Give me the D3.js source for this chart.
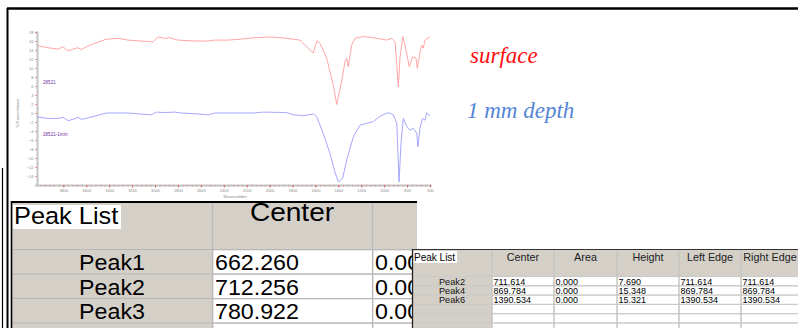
<!DOCTYPE html>
<html><head><meta charset="utf-8">
<script src="https://cdn.jsdelivr.net/npm/d3@7"></script>
<style>
html,body{margin:0;padding:0;background:#fff;}
svg{display:block;}
</style></head>
<body>
<svg id="c" width="798" height="328"></svg>
<script>
// ---------- spectrum data ----------
const wnSurface = [4030,4021,3934,3847,3803,3759,3716,3672,3643,3600,3526,3425,3323,3236,3018,2974,2915,2872,2799,2653,2538,2479,2363,2258,2145,1996,1851,1735,1648,1619,1589,1560,1502,1444,1414,1371,1342,1327,1313,1283,1254,1182,1065,978,934,905,876,862,838,818,781,751,722,711,688,673,659,644,615,600];
const trSurface = [15.1,14.96,14.5,14.2,14.7,13.8,14.2,14.5,14.1,14.7,15.5,16.4,16.6,16.2,15.8,16.9,16.6,16.7,16.2,16.0,16.0,16.2,16.2,16.4,16.7,16.9,16.6,16.2,14.0,13.3,16.0,15.5,12.2,6.2,1.9,7.0,11.4,12.2,10.3,15.1,16.6,17.0,16.6,16.2,16.6,15.8,5.8,12.2,17.0,15.1,10.3,12.5,12.2,9.9,13.3,15.1,14.4,16.2,16.7,16.9];
const wnDepth = [4030,3934,3847,3803,3759,3716,3672,3643,3600,3526,3425,3236,3032,2988,2915,2828,2770,2625,2538,2479,2363,2142,2055,1851,1793,1705,1618,1589,1531,1473,1430,1400,1362,1327,1269,1211,1152,1095,1036,964,920,890,870,853,833,803,774,745,716,705,688,664,644,629,600];
const trDepth = [-0.9,-1.2,-1.2,-0.96,-1.7,-1.4,-0.96,-1.4,-1.2,-0.7,0,0,-0.4,0.2,0.1,0.2,0,-0.2,-0.4,0,0,0,0.2,0.1,-0.4,-0.6,-0.2,-0.8,-4.6,-9.0,-13.1,-15.3,-14.5,-10.4,-5.3,-2.7,-2.3,-1.9,-0.7,0.07,-0.4,-2.3,-15.3,-6.7,-1.2,-3.0,-3.8,-3.4,-4.5,-7.5,-3.4,-1.2,-1.6,0,-0.6];
const xTickValues = [3800,3600,3400,3200,3000,2800,2600,2400,2200,2000,1800,1600,1400,1200,1000,800,600];
const yTickValues = [18,16,14,12,10,8,6,4,2,0,-2,-4,-6,-8,-10,-12,-14];
const seriesNames = ["28521","28521-1mm"];
const legendTexts = ["surface","1 mm depth"];

// ---------- table data ----------
const bigHeaders = ["Peak List","Center"];
const bigPeaks = ["Peak1","Peak2","Peak3"];
const bigCenters = ["662.260","712.256","780.922"];
const bigAreas = ["0.000","0.000","0.000"];

const smallHeaders = ["Peak List","Center","Area","Height","Left Edge","Right Edge"];
const smallPeaks = ["Peak2","Peak4","Peak6"];
const smallCenters = ["711.614","869.784","1390.534"];
const smallAreas = ["0.000","0.000","0.000"];
const smallHeights = ["7.690","15.348","15.321"];
const smallLeft = ["711.614","869.784","1390.534"];
const smallRight = ["711.614","869.784","1390.534"];

const svg = d3.select("#c");
const SANS = "'Liberation Sans', Arial, sans-serif";

const defs = svg.append("defs");
defs.append("clipPath").attr("id","bigclip").append("rect").attr("x",0).attr("y",190).attr("width",417).attr("height",140);

// ---------- outer frame ----------
svg.append("line").attr("x1",7).attr("x2",798).attr("y1",8.5).attr("y2",8.5).attr("stroke","#000").attr("stroke-width",2.5);
svg.append("line").attr("x1",7.5).attr("x2",7.5).attr("y1",8).attr("y2",328).attr("stroke","#000").attr("stroke-width",2);
svg.append("line").attr("x1",2.5).attr("x2",2.5).attr("y1",168).attr("y2",328).attr("stroke","#000").attr("stroke-width",1.2);

// ---------- spectrum ----------
const x = d3.scaleLinear().domain([4030,600]).range([37,430]);
const y = d3.scaleLinear().domain([-16,18]).range([185,32]);

const gAxes = svg.append("g");
const ya = gAxes.append("g").attr("transform","translate(37,0)")
  .call(d3.axisLeft(y).tickValues(yTickValues).tickSize(2).tickPadding(1.5).tickFormat(d3.format("d")));
ya.select(".domain").attr("stroke","#c4c4c4").attr("stroke-width",2);
ya.selectAll(".tick line").attr("stroke","#e06060").attr("stroke-width",0.6);
ya.selectAll(".tick text").attr("fill","#8a8a8a").style("font-size","4px").style("font-family",SANS);

const minor = d3.range(4000,599,-40);
const xm = gAxes.append("g").attr("transform","translate(0,185)")
  .call(d3.axisBottom(x).tickValues(minor).tickSize(1.6).tickFormat(""));
xm.select(".domain").attr("stroke","#c4c4c4").attr("stroke-width",2);
xm.selectAll(".tick line").attr("stroke","#e07070").attr("stroke-width",0.6);

const xa = gAxes.append("g").attr("transform","translate(0,185)")
  .call(d3.axisBottom(x).tickValues(xTickValues).tickSize(2.6).tickPadding(1.5).tickFormat(d3.format("d")));
xa.select(".domain").remove();
xa.selectAll(".tick line").attr("stroke","#d04040").attr("stroke-width",0.7);
xa.selectAll(".tick text").attr("fill","#8a8a8a").style("font-size","4px").style("font-family",SANS);

svg.append("text").attr("x",235).attr("y",198).attr("text-anchor","middle")
  .attr("fill","#8a8a8a").style("font-size","4px").style("font-family",SANS).text("Wavenumber");
svg.append("text").attr("transform","translate(19,113) rotate(-90)").attr("text-anchor","middle")
  .attr("fill","#8a8a8a").style("font-size","4px").style("font-family",SANS).text("%Transmittance");

const line = d3.line().x(d=>x(d[0])).y(d=>y(d[1]));
svg.append("path").datum(d3.zip(wnSurface,trSurface)).attr("d",line)
  .attr("fill","none").attr("stroke","#ff9c9c").attr("stroke-width",0.9);
svg.append("path").datum(d3.zip(wnDepth,trDepth)).attr("d",line)
  .attr("fill","none").attr("stroke","#9c9cff").attr("stroke-width",0.9);

svg.append("text").attr("x",43).attr("y",84).attr("fill","#7030a0")
  .style("font-size","4.6px").style("font-family",SANS).text(seriesNames[0]);
svg.append("text").attr("x",43).attr("y",136).attr("fill","#7030a0")
  .style("font-size","4.6px").style("font-family",SANS).text(seriesNames[1]);

svg.append("text").attr("x",470).attr("y",63).attr("fill","#ff1010")
  .style("font-family","'Liberation Serif','Times New Roman',serif").style("font-style","italic").style("font-size","23px").text(legendTexts[0]);
svg.append("text").attr("x",467).attr("y",118).attr("fill","#5585d5")
  .style("font-family","'Liberation Serif','Times New Roman',serif").style("font-style","italic").style("font-size","23px").text(legendTexts[1]);

// ---------- big table ----------
const GRAY = "#d4d0c8", GRID = "#b8b8b8";
const big = svg.append("g").attr("clip-path","url(#bigclip)");
const bCols = [12,212.5,372.5,470];
const bHeadTop = 202, bHeadBot = 249.5, bRowH = 24.5;
big.append("rect").attr("x",12).attr("y",bHeadTop).attr("width",405).attr("height",328-bHeadTop).attr("fill",GRAY);
const bRows = d3.range(4).map(i => bHeadBot + i*bRowH);
[bCols[1],bCols[2]].forEach(cx=>{
  big.append("line").attr("x1",cx).attr("x2",cx).attr("y1",bHeadTop).attr("y2",328).attr("stroke",GRID).attr("stroke-width",1.2);
});
bRows.forEach((ry,i)=>{
  big.append("line").attr("x1",12).attr("x2",417).attr("y1",ry).attr("y2",ry).attr("stroke",GRID).attr("stroke-width",1.2);
  [1,2].forEach(c=>{
    big.append("rect").attr("x",bCols[c]+1).attr("y",ry+1).attr("width",bCols[c+1]-bCols[c]-1.6).attr("height",bRowH-1.6).attr("fill","#fff");
  });
});
big.append("rect").attr("x",13).attr("y",205).attr("width",108).attr("height",24).attr("fill","#fff");
function stretched(g,tx,ty,txt,size,anchor){
  g.append("text").attr("transform",`translate(${tx},${ty}) scale(1.08,1)`).attr("text-anchor",anchor||"start")
    .attr("fill","#000").style("font-family",SANS).style("font-size",size+"px").text(txt);
}
stretched(big,14,224,bigHeaders[0],23.5);
stretched(big,292,221,bigHeaders[1],26,"middle");
bigPeaks.forEach((p,i)=>{
  const by = bRows[i] + 20.5;
  stretched(big,112,by,p,21.5,"middle");
  stretched(big,215,by,bigCenters[i],21.5);
  stretched(big,375,by,bigAreas[i],21.5);
});
big.append("line").attr("x1",11).attr("x2",417).attr("y1",202).attr("y2",202).attr("stroke","#000").attr("stroke-width",2);
big.append("line").attr("x1",11.5).attr("x2",11.5).attr("y1",201).attr("y2",328).attr("stroke","#000").attr("stroke-width",1.6);

// ---------- small table ----------
const sm = svg.append("g");
const sCols = [412.5,492,554,617,679,741,810];
const sTop = 249.5, sHeadBot = 276.5, sRowH = 9.3;
sm.append("rect").attr("x",412).attr("y",sTop).attr("width",386).attr("height",328-sTop).attr("fill",GRAY);
const sRows = d3.range(6).map(i=>sHeadBot + i*sRowH);
sRows.forEach(ry=>{
  for(let c=1;c<6;c++){
    sm.append("rect").attr("x",sCols[c]+0.6).attr("y",ry+0.6).attr("width",sCols[c+1]-sCols[c]-1.2).attr("height",sRowH-1.2).attr("fill","#fff");
  }
  sm.append("line").attr("x1",412).attr("x2",798).attr("y1",ry).attr("y2",ry).attr("stroke","#c8c8c8").attr("stroke-width",0.8);
});
for(let c=1;c<6;c++){
  sm.append("line").attr("x1",sCols[c]).attr("x2",sCols[c]).attr("y1",sTop).attr("y2",328).attr("stroke","#bdbdbd").attr("stroke-width",0.8);
}
sm.append("rect").attr("x",413.5).attr("y",251).attr("width",43.5).attr("height",12).attr("fill","#fff");
sm.append("text").attr("x",414).attr("y",261).attr("fill","#000").style("font-family",SANS).style("font-size","10px").text(smallHeaders[0]);
smallHeaders.slice(1).forEach((h,i)=>{
  const c = i+1;
  const cx = c===5 ? 770 : (sCols[c]+sCols[c+1])/2;
  sm.append("text").attr("x",cx).attr("y",261).attr("text-anchor","middle").attr("fill","#222")
    .style("font-family",SANS).style("font-size","10.8px").text(h);
});
const smallCols = [smallCenters,smallAreas,smallHeights,smallLeft,smallRight];
smallPeaks.forEach((p,i)=>{
  const by = sRows[i] + 8;
  sm.append("text").attr("x",452).attr("y",by).attr("text-anchor","middle").attr("fill","#111")
    .style("font-family",SANS).style("font-size","9.2px").text(p);
  smallCols.forEach((arr,j)=>{
    sm.append("text").attr("x",sCols[j+1]+1.5).attr("y",by).attr("fill","#000")
      .style("font-family",SANS).style("font-size","9px").text(arr[i]);
  });
});
sm.append("line").attr("x1",412).attr("x2",798).attr("y1",249.5).attr("y2",249.5).attr("stroke","#333").attr("stroke-width",1.2);
sm.append("line").attr("x1",412.5).attr("x2",412.5).attr("y1",249).attr("y2",328).attr("stroke","#222").attr("stroke-width",1.3);
</script>
</body></html>
